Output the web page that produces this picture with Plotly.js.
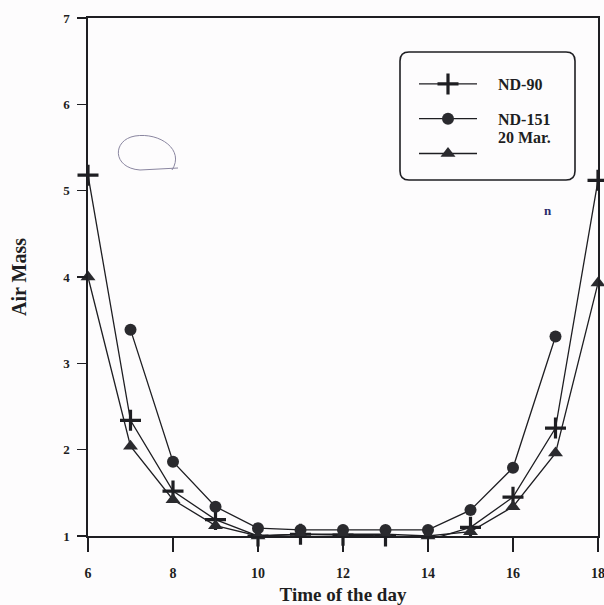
<!DOCTYPE html>
<html>
<head>
<meta charset="utf-8">
<script src="https://cdn.plot.ly/plotly-3.0.1.min.js"></script>
<style>html,body{margin:0;padding:0;background:#fdfcfd;}#chart{width:604px;height:605px;}</style>
</head>
<body>
<div id="chart"></div>
<script>
// Time of the day (hours)
var hoursFull = [6, 7, 8, 9, 10, 11, 12, 13, 14, 15, 16, 17, 18];
var hoursDay = [7, 8, 9, 10, 11, 12, 13, 14, 15, 16, 17];
// Air mass series
var nd90 = [5.18, 2.34, 1.52, 1.19, 1.0, 1.02, 1.01, 1.0, 0.95, 1.1, 1.45, 2.25, 5.12];
var nd151 = [3.39, 1.86, 1.34, 1.09, 1.07, 1.07, 1.07, 1.07, 1.30, 1.79, 3.31];
var mar20 = [4.0, 2.04, 1.42, 1.12, 1.0, 1.02, 1.02, 1.02, 1.0, 1.05, 1.34, 1.96, 3.93];
var seriesNames = ["ND-90", "ND-151", ""];
var xTickVals = [6, 8, 10, 12, 14, 16, 18];
var yTickVals = [1, 2, 3, 4, 5, 6, 7];

var ink = "#1e1e22";
var pad = "\u00a0\u00a0\u00a0\u00a0";
var traces = [
  {x: hoursFull, y: nd90, name: pad + seriesNames[0], legendgroup: "a", mode: "lines+markers",
   line: {color: ink, width: 1.3},
   marker: {symbol: "cross-thin", size: 15, line: {color: ink, width: 3.2}, color: ink},
   cliponaxis: false},
  {x: hoursDay, y: nd151, name: pad + seriesNames[1], legendgroup: "b", mode: "lines+markers",
   line: {color: ink, width: 1.3},
   marker: {symbol: "circle", size: 12, color: "#2a2a2e"},
   cliponaxis: false},
  {x: hoursFull, y: mar20, name: pad + seriesNames[2], legendgroup: "c", mode: "lines+markers",
   line: {color: ink, width: 1.3},
   marker: {symbol: "triangle-up", size: 13, color: "#2a2a2e"},
   cliponaxis: false}
];

// plot area in px: x 88..598, y 18..536
function px(x) { return (x - 88) / 510; }
function py(y) { return (536 - y) / 518; }
var bx0 = px(400), bx1 = px(575), by0 = py(180), by1 = py(52);
var rx = 9 / 510, ry = 9 / 518;
var boxPath = "M" + (bx0 + rx) + "," + by1 + " L" + (bx1 - rx) + "," + by1 +
  " Q" + bx1 + "," + by1 + " " + bx1 + "," + (by1 - ry) +
  " L" + bx1 + "," + (by0 + ry) + " Q" + bx1 + "," + by0 + " " + (bx1 - rx) + "," + by0 +
  " L" + (bx0 + rx) + "," + by0 + " Q" + bx0 + "," + by0 + " " + bx0 + "," + (by0 + ry) +
  " L" + bx0 + "," + (by1 - ry) + " Q" + bx0 + "," + by1 + " " + (bx0 + rx) + "," + by1 + " Z";

var serif = "Liberation Serif, Times New Roman, serif";
var layout = {
  width: 604, height: 605,
  margin: {l: 88, r: 6, t: 18, b: 69},
  paper_bgcolor: "#fdfcfd", plot_bgcolor: "#fdfcfd",
  showlegend: true,
  legend: {x: px(414), y: py(67), xanchor: "left", yanchor: "top",
           bgcolor: "rgba(0,0,0,0)", borderwidth: 0,
           traceorder: "grouped", tracegroupgap: 11, itemwidth: 58,
           font: {family: serif, size: 16, color: ink, weight: "bold"}},
  xaxis: {range: [6, 18], tickvals: xTickVals, ticks: "outside", ticklen: 14, tickwidth: 1.5,
          tickcolor: ink, showline: true, linecolor: ink, linewidth: 1.6, mirror: true,
          showgrid: false, zeroline: false, ticklabelstandoff: 10, ticklabeloverflow: "allow",
          tickfont: {family: serif, size: 14, color: ink, weight: "bold"},
          title: {text: "Time of the day", standoff: 7,
                  font: {family: serif, size: 19, color: ink, weight: "bold"}}},
  yaxis: {range: [1, 7], tickvals: yTickVals, ticks: "outside", ticklen: 9, tickwidth: 1.5,
          tickcolor: ink, showline: true, linecolor: ink, linewidth: 1.6, mirror: true,
          showgrid: false, zeroline: false, ticklabelstandoff: 5,
          tickfont: {family: serif, size: 13, color: ink, weight: "bold"},
          title: {text: "Air Mass", standoff: 31,
                  font: {family: serif, size: 20, color: ink, weight: "bold"}}},
  shapes: [
    {type: "path", xref: "paper", yref: "paper", path: boxPath,
     line: {color: ink, width: 1.6}, fillcolor: "rgba(0,0,0,0)"},
    {type: "path", xref: "paper", yref: "paper",
     path: "M" + px(172) + "," + py(170) + " C" + px(185) + "," + py(150) + " " + px(160) + "," + py(132) + " " + px(135) + "," + py(136) +
           " C" + px(112) + "," + py(140) + " " + px(112) + "," + py(168) + " " + px(140) + "," + py(170) +
           " L" + px(178) + "," + py(168),
     line: {color: "#8a86a0", width: 1}}
  ],
  annotations: [
    {xref: "paper", yref: "paper", x: px(496), y: py(137), xanchor: "left", yanchor: "middle",
     text: "20 Mar.", showarrow: false, font: {family: serif, size: 16, color: ink, weight: "bold"}},
    {xref: "paper", yref: "paper", x: px(548), y: py(210), xanchor: "center", yanchor: "middle",
     text: "n", showarrow: false, font: {family: serif, size: 13, color: "#2a2a6a", weight: "bold"}}
  ]
};
Plotly.newPlot("chart", traces, layout, {displayModeBar: false, staticPlot: true});
</script>
</body>
</html>
